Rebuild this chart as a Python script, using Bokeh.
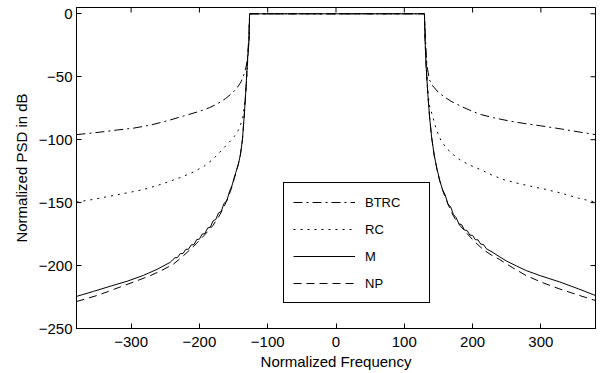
import math
from bokeh.plotting import figure
from bokeh.models import Legend, LegendItem, FixedTicker
from bokeh.embed import file_html
from bokeh.resources import INLINE

# ---- data ----
btrc_f = [-380, -350, -320, -296, -270, -245, -222, -200, -185, -173.6, -162, -152, -145, -139,
          -135, -132, -130, -128, -126.5,
          129.5, 131, 133, 135, 137, 142, 150, 160, 168.6, 185, 200, 212, 230, 255, 280, 300,
          330, 355, 380]
btrc_db = [-96, -94.3, -92.3, -90.8, -88.2, -84.7, -81, -77.5, -74.5, -71.5, -67.5, -63, -59,
           -54, -48.5, -43, -37, -22, 0,
           0, -20, -40, -47, -52.6, -57.5, -62.5, -66.5, -69.5, -74, -77.5, -80, -82.5, -85.3,
           -87.5, -89, -91.5, -93.8, -96]

rc_f = [-380, -355, -331, -305, -282, -262, -243, -225, -208, -193, -180, -168.6, -158, -149,
        -142, -137, -134.5, -132, -130, -128, -126.5,
        129.5, 131, 133, 135, 137, 141.8, 147, 154, 163, 172, 183, 197, 212.6, 228, 244, 265,
        285, 308, 330, 355, 380]
rc_db = [-149.6, -147.4, -144.9, -142.2, -139.6, -136.5, -133, -129.5, -125.5, -121, -115.5,
         -109, -103, -97.5, -91.5, -84, -74, -63, -45, -25, 0,
         0, -25, -48, -65, -73, -82, -92, -101, -107.5, -112, -116.5, -120.5, -124, -128,
         -131.5, -134.5, -137, -139.6, -142.5, -146.5, -149.6]

m_f = [-380, -355, -331, -305, -282, -262, -243,
       -236, -232, -228, -224, -220, -216, -212, -208, -204, -200, -196, -192, -188, -184,
       -180, -176, -172, -168, -164, -160, -156, -152,
       -149, -146.6, -143, -140, -137, -134.5, -132, -129.6, -127.3, -126.5,
       129.5, 130.5, 132, 134.5, 137, 140, 144, 148,
       152, 156, 160, 164, 168, 172, 176, 180, 184, 188, 192, 196, 200, 204, 208, 212, 216, 220,
       229.7, 240, 250, 265, 278.6, 300, 327.5, 355, 380]
m_db = [-224.5, -220.5, -216.5, -212.3, -207.8, -203, -197.5,
        -193.8, -193.6, -190.4, -190.4, -187.2, -187, -183.6, -183.3, -179.4, -179, -175,
        -174.6, -170.2, -169.5, -164.5, -163.3, -158.2, -157, -150.6, -148.7, -141.3, -136,
        -130, -126, -119.5, -112, -100, -82, -61, -37, -21, 0,
        0, -22, -42, -64, -81.7, -98, -113, -123.5,
        -132.5, -139.8, -144, -151.2, -153.5, -159.5, -162, -166.8, -167.5, -171.8, -172.2,
        -175.8, -176, -179.4, -179.6, -183, -183.3, -186.5,
        -189.6, -193.2, -196.5, -200.5, -204, -208.2, -213, -218.5, -223.8]

np_f = [-380, -365, -350, -333, -316, -295, -272, -255, -238, -226, -214, -205, -196, -188,
        -180, -172, -165, -158, -153, -149, -146.6, -143, -140, -137, -134.5, -132, -129.6,
        -127.3, -126.5,
        129.5, 130.5, 132, 134.5, 137, 140, 144, 148, 151.5, 157, 163.8, 170, 175, 182, 190.6,
        202, 215, 227, 239, 258, 278.6, 302, 327.5, 355, 380]
np_db = [-228.6, -226.2, -223.8, -220.5, -217, -212.8, -208, -203.8, -198.8, -193.5, -187.5,
         -182.8, -177.7, -173, -168, -161.5, -154.5, -146, -138.5, -131, -126.5, -119.5, -112,
         -100, -82, -61, -37, -21, 0,
         0, -22, -42, -64, -81.7, -98, -113, -124, -132, -141.5, -151, -158.5, -163.5, -168.5,
         -173.8, -180.5, -187, -191.5, -195, -201.5, -208, -213.5, -218.6, -223.5, -227.8]

series_names = ["BTRC", "RC", "M", "NP"]
x_ticks = [-300, -200, -100, 0, 100, 200, 300]
x_tick_labels = ["\u2212300", "\u2212200", "\u2212100", "0", "100", "200", "300"]
y_ticks = [-250, -200, -150, -100, -50, 0]
y_tick_labels = ["\u2212250", "\u2212200", "\u2212150", "\u2212100", "\u221250", "0"]

FONT = "Liberation Sans"
X_RANGE = (-380, 380)
Y_RANGE = (-250, 5)

p = figure(width=600, height=373, x_range=X_RANGE, y_range=Y_RANGE,
           output_backend="svg", toolbar_location=None,
           min_border_left=76, min_border_right=5, min_border_top=7, min_border_bottom=45)
p.background_fill_color = "white"
p.border_fill_color = "white"
p.grid.visible = False
p.outline_line_color = "black"
p.outline_line_width = 1
p.outline_line_alpha = 1

for ax, ticks, labels in ((p.xaxis[0], x_ticks, x_tick_labels), (p.yaxis[0], y_ticks, y_tick_labels)):
    ax.ticker = FixedTicker(ticks=ticks)
    ax.major_label_overrides = {t: l for t, l in zip(ticks, labels)}
    ax.major_tick_in = 5
    ax.major_tick_out = 0
    ax.minor_tick_line_color = None
    ax.axis_line_color = "black"
    ax.major_tick_line_color = "black"
    ax.major_label_text_font = FONT
    ax.major_label_text_font_size = "15px"
    ax.major_label_text_color = "black"
    ax.axis_label_text_font = FONT
    ax.axis_label_text_font_size = "15px"
    ax.axis_label_text_font_style = "normal"
    ax.axis_label_text_color = "black"

p.xaxis.axis_label = "Normalized Frequency"
p.yaxis.axis_label = "Normalized PSD in dB"
p.xaxis.major_label_standoff = 8
p.xaxis.axis_label_standoff = 3
p.yaxis.major_label_standoff = 4
p.yaxis.axis_label_standoff = 6

# inward tick marks on the top and right frame edges (box style)
p.ray(x=x_ticks, y=[Y_RANGE[1]] * len(x_ticks), length=5, length_units="screen",
      angle=-math.pi / 2, line_color="black", line_width=1)
p.ray(x=[X_RANGE[1]] * len(y_ticks), y=y_ticks, length=5, length_units="screen",
      angle=math.pi, line_color="black", line_width=1)

r_btrc = p.line(btrc_f, btrc_db, line_color="black", line_width=1, line_dash="9 4 2 4")
r_rc = p.line(rc_f, rc_db, line_color="black", line_width=1, line_dash="2 5")
r_m = p.line(m_f, m_db, line_color="black", line_width=1)
r_np = p.line(np_f, np_db, line_color="black", line_width=1, line_dash="8 5")

legend = Legend(items=[LegendItem(label=n, renderers=[r]) for n, r in
                       zip(series_names, [r_btrc, r_rc, r_m, r_np])],
                location=(207, 25), margin=0, padding=9, spacing=7,
                glyph_height=20, glyph_width=62, label_height=20, label_width=55,
                label_standoff=10, border_line_color="black", border_line_width=1,
                border_line_alpha=1, background_fill_color="white", background_fill_alpha=1,
                label_text_font=FONT, label_text_font_size="13px", label_text_color="black")
p.add_layout(legend)

open("out.html", "w").write(file_html(p, INLINE))
